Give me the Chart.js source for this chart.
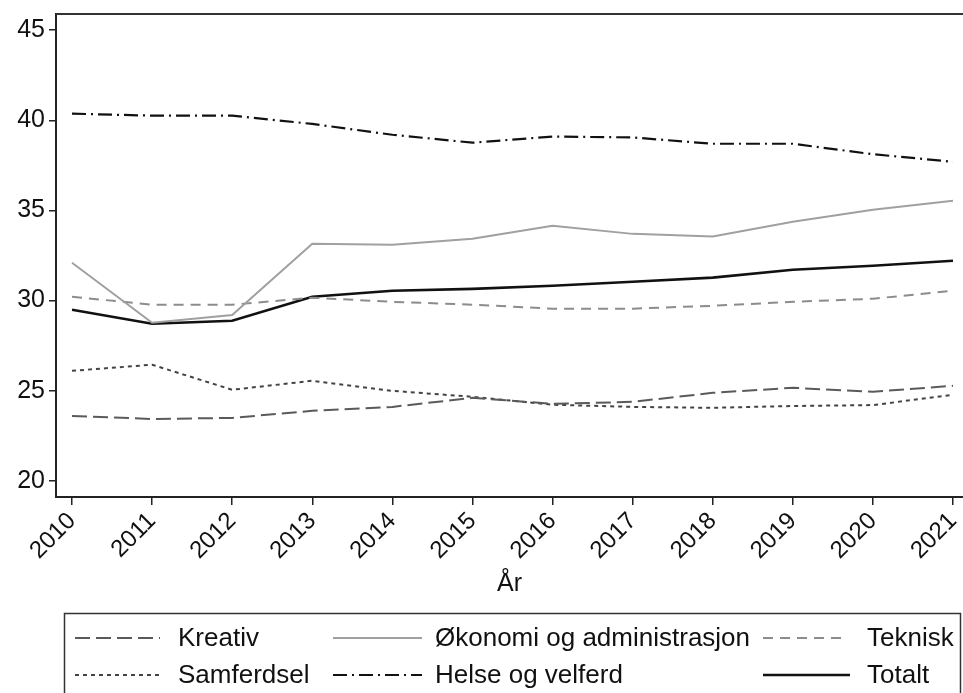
<!DOCTYPE html>
<html>
<head>
<meta charset="utf-8">
<script src="https://cdn.jsdelivr.net/npm/chart.js@4/dist/chart.umd.min.js"></script>
<style>
    html, body { margin: 0; padding: 0; background: #ffffff; overflow: hidden; }
    canvas { display: block; }
</style>
</head>
<body>
<canvas id="mainChart" width="963" height="693"></canvas>
<script>
// ============================================
// DATA
// ============================================
const years = [2010, 2011, 2012, 2013, 2014, 2015, 2016, 2017, 2018, 2019, 2020, 2021];
const yTicks = [20, 25, 30, 35, 40, 45];

const kreativ    = [23.6, 23.43, 23.49, 23.88, 24.1, 24.6, 24.27, 24.38, 24.88, 25.16, 24.94, 25.27];
const okonomi    = [32.1, 28.77, 29.2, 33.15, 33.1, 33.43, 34.15, 33.7, 33.55, 34.37, 35.04, 35.54];
const teknisk    = [30.21, 29.77, 29.77, 30.16, 29.93, 29.77, 29.55, 29.55, 29.71, 29.93, 30.1, 30.54];
const samferdsel = [26.1, 26.44, 25.05, 25.55, 24.99, 24.66, 24.22, 24.1, 24.05, 24.15, 24.2, 24.77];
const helse      = [40.37, 40.26, 40.26, 39.8, 39.2, 38.76, 39.1, 39.05, 38.7, 38.7, 38.12, 37.7];
const totalt     = [29.49, 28.71, 28.88, 30.21, 30.54, 30.65, 30.82, 31.04, 31.27, 31.71, 31.93, 32.21];

const FONT = '"Liberation Sans", Arial, sans-serif';

// ============================================
// SERIES
// ============================================
const series = [
    { label: 'Kreativ', data: kreativ, color: '#5a5a5a', dash: [15, 6], width: 2 },
    { label: 'Økonomi og administrasjon', data: okonomi, color: '#a0a0a0', dash: [], width: 2 },
    { label: 'Teknisk', data: teknisk, color: '#8c8c8c', dash: [10, 7], width: 2 },
    { label: 'Samferdsel', data: samferdsel, color: '#444444', dash: [4, 4], width: 2 },
    { label: 'Helse og velferd', data: helse, color: '#111111', dash: [14, 5, 2, 5], width: 2.2 },
    { label: 'Totalt', data: totalt, color: '#111111', dash: [], width: 2.6 },
];

// legend slots: [lineX1, lineX2, textX, rowY]
const legendSlots = [
    [75, 160, 178, 638],
    [333, 422, 435, 638],
    [763, 845, 867, 638],
    [75, 160, 178, 675],
    [333, 422, 435, 675],
    [763, 850, 867, 675],
];

// ============================================
// PLUGINS
// ============================================
// top edge of the plot frame (right edge falls outside the picture)
const framePlugin = {
    id: 'frame',
    afterDraw(chart) {
        const { ctx, chartArea: a } = chart;
        ctx.save();
        ctx.strokeStyle = '#333';
        ctx.lineWidth = 2;
        ctx.beginPath();
        ctx.moveTo(a.left, a.top);
        ctx.lineTo(a.right + 5, a.top);
        ctx.stroke();
        ctx.restore();
    }
};

const legendPlugin = {
    id: 'boxLegend',
    afterDraw(chart) {
        const ctx = chart.ctx;
        ctx.save();
        ctx.strokeStyle = '#333';
        ctx.lineWidth = 1.5;
        ctx.strokeRect(64.5, 613.5, 896, 100);
        ctx.font = '26px ' + FONT;
        ctx.textBaseline = 'middle';
        ctx.fillStyle = '#111';
        series.forEach((s, i) => {
            const [x1, x2, tx, y] = legendSlots[i];
            ctx.beginPath();
            ctx.setLineDash(s.dash);
            ctx.strokeStyle = s.color;
            ctx.lineWidth = s.width;
            ctx.moveTo(x1, y);
            ctx.lineTo(x2, y);
            ctx.stroke();
            ctx.setLineDash([]);
            ctx.fillText(s.label, tx, y + 1);
        });
        ctx.restore();
    }
};

// ============================================
// CHART
// ============================================
const ctx = document.getElementById('mainChart').getContext('2d');

new Chart(ctx, {
    type: 'line',
    data: {
        datasets: series.map(s => ({
            label: s.label,
            data: years.map((yr, i) => ({ x: yr, y: s.data[i] })),
            borderColor: s.color,
            borderDash: s.dash,
            borderWidth: s.width,
            pointRadius: 0,
            tension: 0,
            fill: false,
        }))
    },
    options: {
        responsive: false,
        animation: false,
        layout: { padding: { left: 0, right: 0, top: 14, bottom: 94 } },
        plugins: {
            legend: { display: false },
            tooltip: { enabled: false },
        },
        scales: {
            x: {
                type: 'linear',
                min: 2009.8,
                max: 2021.125,
                afterBuildTicks: s => { s.ticks = years.map(v => ({ value: v })); },
                afterFit: s => { s.height = 102; s.paddingLeft = 0; s.paddingRight = 0; },
                grid: { drawOnChartArea: false, drawTicks: true, tickLength: 8, color: '#222', lineWidth: 1.5 },
                border: { display: true, color: '#222', width: 2 },
                ticks: {
                    autoSkip: false,
                    minRotation: 45,
                    maxRotation: 45,
                    padding: 2,
                    color: '#111',
                    font: { family: FONT, size: 24 },
                    callback: v => String(v),
                },
                title: {
                    display: true,
                    text: 'År',
                    color: '#111',
                    font: { family: FONT, size: 25 },
                    padding: { top: 4, bottom: 0 },
                },
            },
            y: {
                min: 19.1,
                max: 45.9,
                afterBuildTicks: s => { s.ticks = yTicks.map(v => ({ value: v })); },
                afterFit: s => { s.width = 56; s.paddingTop = 0; s.paddingBottom = 0; },
                grid: { drawOnChartArea: false, drawTicks: true, tickLength: 7, color: '#222', lineWidth: 1.5 },
                border: { display: true, color: '#222', width: 2 },
                ticks: {
                    padding: 4,
                    color: '#111',
                    font: { family: FONT, size: 25 },
                },
            },
        },
    },
    plugins: [framePlugin, legendPlugin],
});
</script>
</body>
</html>
